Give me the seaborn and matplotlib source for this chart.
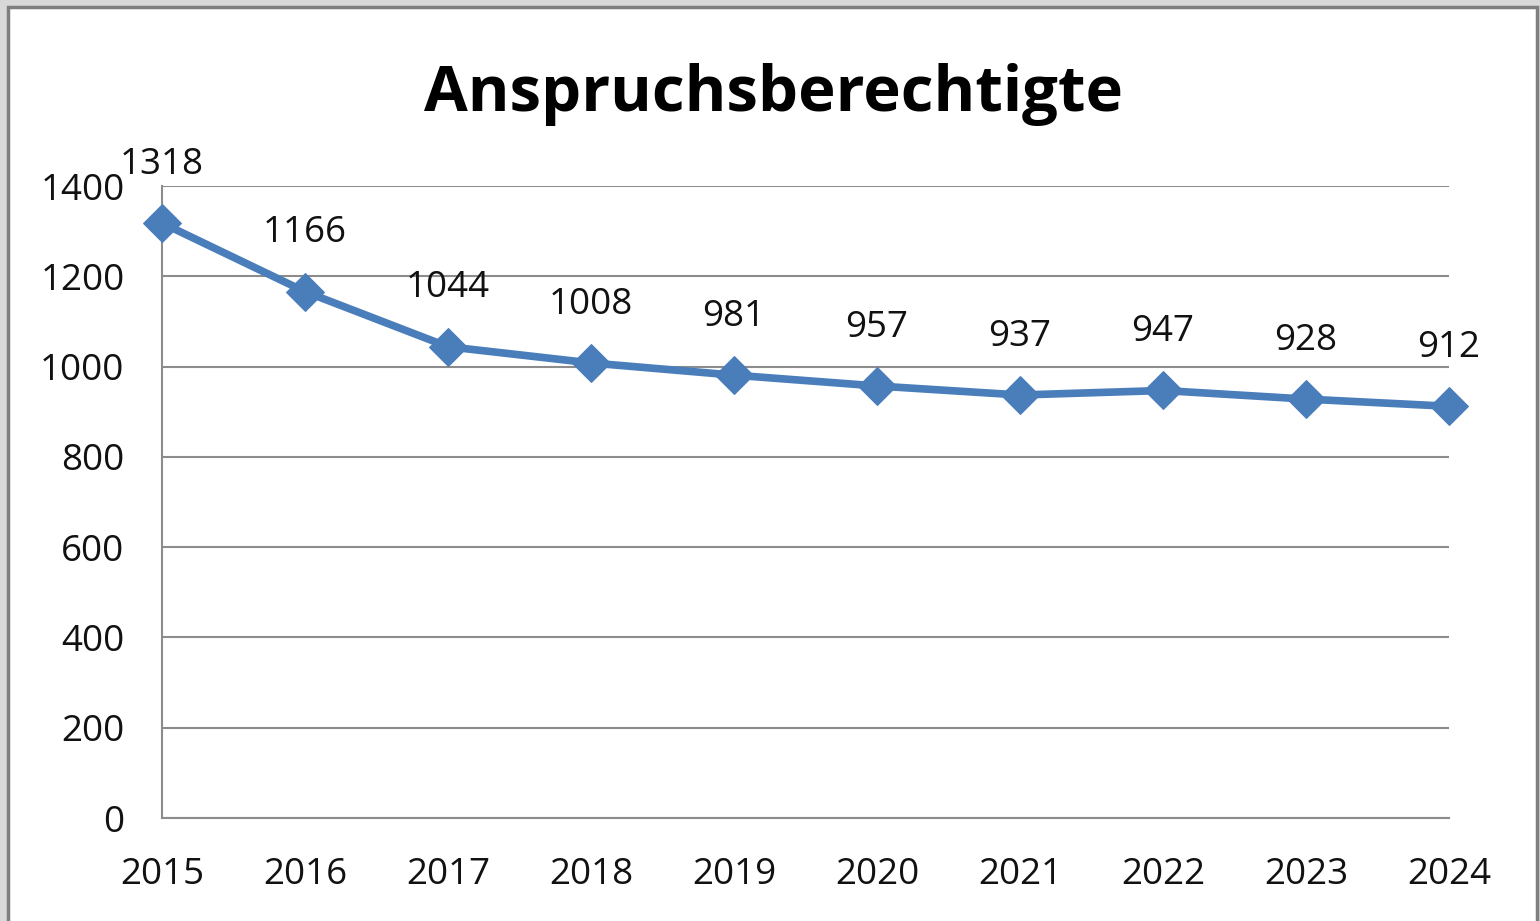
import matplotlib
matplotlib.use("Agg")
import matplotlib.pyplot as plt
from matplotlib.patches import Rectangle
import seaborn as sns
import pandas as pd

years = [2015, 2016, 2017, 2018, 2019, 2020, 2021, 2022, 2023, 2024]
values = [1318, 1166, 1044, 1008, 981, 957, 937, 947, 928, 912]
yticks = [0, 200, 400, 600, 800, 1000, 1200, 1400]
title = "Anspruchsberechtigte"

sns.set_style("white")
plt.rcParams['font.family'] = ['Open Sans', 'DejaVu Sans']

df = pd.DataFrame({"Jahr": years, "Wert": values})

fig = plt.figure(figsize=(15.4, 9.21), dpi=100, facecolor='#d9d9d9')
fig.patches.append(Rectangle((8/1540, -0.02), 1529/1540, (921-7)/921 + 0.02,
                             transform=fig.transFigure, facecolor='white',
                             edgecolor='#7f7f7f', lw=2.5, zorder=-10))
ax = fig.add_axes([162/1540, 1 - 818/921, (1449-162)/1540, (818-186)/921])
ax.set_zorder(1)
ax.set_facecolor('white')

color = '#4a7ebb'
sns.lineplot(data=df, x="Jahr", y="Wert", ax=ax, color=color, lw=5.5,
             marker='D', markersize=19, markeredgecolor=color, clip_on=False, zorder=5)

for x, y in zip(years, values):
    ax.annotate(str(y), (x, y), xytext=(0, 42), textcoords='offset points',
                ha='center', va='center', fontsize=26.5, color='#111111')

ax.set_xlim(2015, 2024)
ax.set_ylim(0, 1400)
ax.set_xticks(years)
ax.set_xticklabels([str(y) for y in years])
ax.set_yticks(yticks)
ax.set_yticklabels([str(t) for t in yticks])
ax.grid(axis='y', color='#8c8c8c', lw=1.5)
ax.grid(axis='x', visible=False)
for s in ['top', 'right']:
    ax.spines[s].set_visible(False)
for s in ['left', 'bottom']:
    ax.spines[s].set_color('#8c8c8c')
    ax.spines[s].set_linewidth(1.5)
ax.tick_params(axis='both', direction='out', length=10, width=1.5, color='#8c8c8c',
               labelsize=26.5, labelcolor='#111111')
ax.tick_params(axis='y', pad=17)
ax.tick_params(axis='x', pad=18)
ax.set_xlabel("")
ax.set_ylabel("")

fig.text(773/1540, 1 - 95/921, title, ha='center', va='center', fontsize=45.7,
         fontweight='bold', color='black')

fig.savefig("out.png", dpi=100, facecolor=fig.get_facecolor())
